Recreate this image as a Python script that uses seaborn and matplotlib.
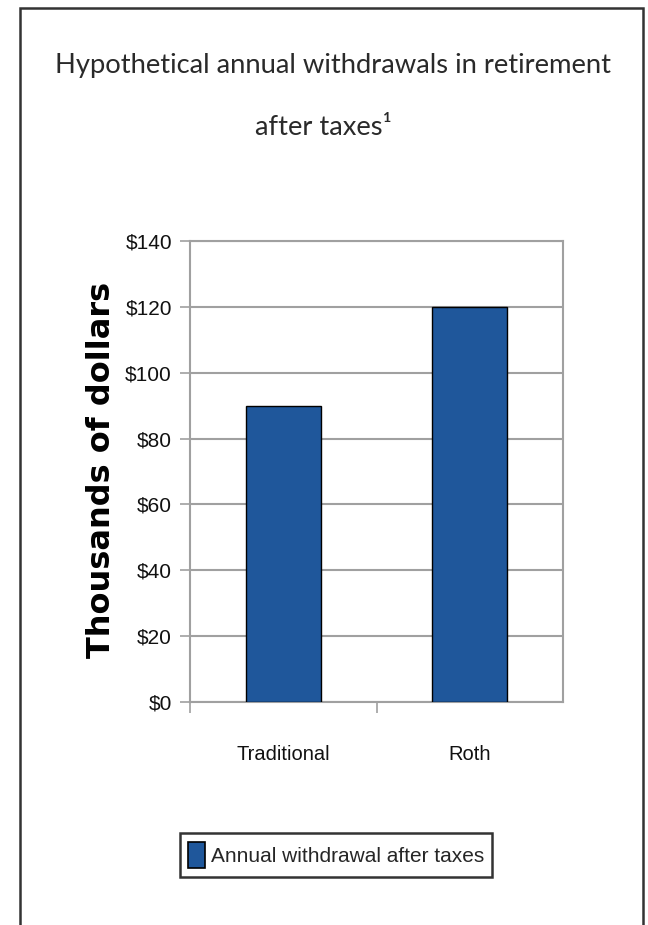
import matplotlib
matplotlib.use('Agg')
import matplotlib.pyplot as plt
import seaborn as sns
from matplotlib.patches import Patch, Rectangle

# dados
planos = ['Traditional', 'Roth']
saques = [90, 120]
rotulos_y = ['$0', '$20', '$40', '$60', '$80', '$100', '$120', '$140']
valores_y = [0, 20, 40, 60, 80, 100, 120, 140]
nome_serie = 'Annual withdrawal after taxes'

azul = '#1f579b'
cinza = '#a0a0a0'
fonte_eixos = ['Liberation Sans', 'DejaVu Sans']

sns.set_style('white')
plt.rcParams['font.family'] = ['Liberation Sans', 'DejaVu Sans']

fig = plt.figure(figsize=(6.48, 9.25), dpi=100)
ax = fig.add_axes([190 / 648, 1 - 702 / 925, 373 / 648, 461 / 925])

sns.barplot(x=planos, y=saques, color=azul, width=0.4, saturation=1,
            edgecolor='black', linewidth=1, ax=ax, zorder=3)

ax.set_ylim(0, 140)
ax.set_xlim(-0.5, 1.5)
ax.set_yticks(valores_y)
ax.set_yticklabels(rotulos_y, family=fonte_eixos, fontsize=15, color='#111111')
ax.set_xticks([0, 1])
ax.set_xticklabels(planos, family=fonte_eixos, fontsize=14.5, color='#111111')
ax.set_xticks([-0.5, 0.5], minor=True)
ax.tick_params(axis='x', which='major', length=0, pad=31)
ax.tick_params(axis='x', which='minor', length=8, width=1.2, color=cinza, direction='out', bottom=True)
ax.tick_params(axis='y', length=7, width=1.2, color=cinza, direction='out', left=True, pad=6)
ax.yaxis.grid(True, color=cinza, linewidth=1.5, zorder=0)
ax.set_axisbelow(True)
for lado in ['left', 'right', 'top', 'bottom']:
    ax.spines[lado].set_visible(True)
    ax.spines[lado].set_color(cinza)
    ax.spines[lado].set_linewidth(1.5)
ax.set_xlabel('')
ax.set_ylabel('')

# rótulo do eixo y
fig.text(102 / 648, 1 - 470 / 925, 'Thousands of dollars', rotation=90,
         ha='center', va='center', fontsize=23, fontweight='bold', color='black',
         family=['DejaVu Sans'])

# título
fig.text(333 / 648, 1 - 73 / 925, 'Hypothetical annual withdrawals in retirement',
         ha='center', va='baseline', fontsize=19.7, color='#2a2a2a', family=['Lato', 'DejaVu Sans'])
fig.text(323 / 648, 1 - 135 / 925, 'after taxes\u00b9',
         ha='center', va='baseline', fontsize=19.7, color='#2a2a2a', family=['Lato', 'DejaVu Sans'])

# legenda
leg = fig.legend(handles=[Patch(facecolor=azul, edgecolor='black', linewidth=1.2, label=nome_serie)],
                 loc='center', bbox_to_anchor=(336 / 648, 1 - 855 / 925),
                 prop={'family': fonte_eixos, 'size': 15}, frameon=True, fancybox=False,
                 handlelength=0.8, handleheight=1.6, handletextpad=0.3, borderpad=0.4)
leg.get_frame().set_edgecolor('black')
leg.get_frame().set_linewidth(1.8)

# moldura externa
fig.add_artist(Rectangle((20 / 648, -0.05), 623 / 648, 1.05 - 8 / 925, fill=False,
                         edgecolor='#333333', linewidth=1.8, transform=fig.transFigure))

fig.savefig('out.png', dpi=100)
